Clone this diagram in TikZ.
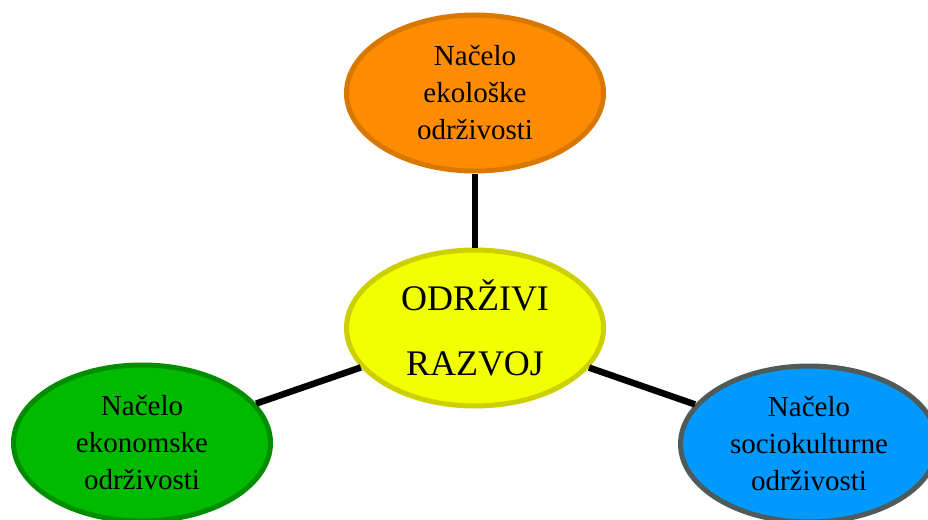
\documentclass[tikz,border=0pt]{standalone}
\usepackage{fontspec}
\setmainfont{Liberation Serif}
\usepackage{tikz}
\usetikzlibrary{shapes.geometric}
\definecolor{ekoFill}{HTML}{FF8C00}
\definecolor{ekoLine}{HTML}{D97800}
\definecolor{razFill}{HTML}{F2FF00}
\definecolor{razLine}{HTML}{CCD000}
\definecolor{ekonFill}{HTML}{00BA00}
\definecolor{ekonLine}{HTML}{008E00}
\definecolor{socFill}{HTML}{0099FF}
\definecolor{socLine}{HTML}{4F5A5A}
\tikzset{
  nacelo/.style = {ellipse, align=center, inner sep=0pt, line width=5pt,
    minimum width=257pt, minimum height=156pt,
    font=\fontsize{29}{37}\selectfont},% malo nacelo
  srediste/.style = {nacelo, font=\fontsize{36}{65}\selectfont},% odrzivi razvoj
  veza/.style = {line width=6.5pt, black}
}
\begin{document}
\begin{tikzpicture}[x=1pt,y=-1pt]
\useasboundingbox (0,0) rectangle (928,519);
\node [srediste, fill=razFill, draw=razLine] (r) at (475,328) {ODRŽIVI\\RAZVOJ};
\node [nacelo, fill=ekoFill, draw=ekoLine] (eko) at (475,93) {Načelo\\ekološke\\održivosti};
\node [nacelo, fill=ekonFill, draw=ekonLine] (ekon) at (142,443) {Načelo\\ekonomske\\održivosti};
\node [nacelo, fill=socFill, draw=socLine] (soc) at (809,444) {Načelo\\sociokulturne\\održivosti};

\draw [veza] (r) -- (eko);
\draw [veza] (r) -- (ekon);
\draw [veza] (r) -- (soc);
\end{tikzpicture}
\end{document}
